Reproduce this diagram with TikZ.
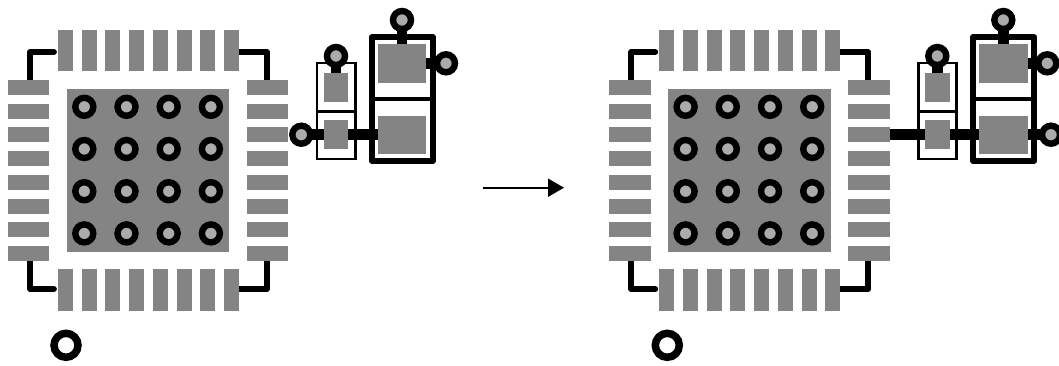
\documentclass[tikz,border=0pt]{standalone}
\usetikzlibrary{arrows.meta}
\definecolor{padgray}{HTML}{848484}
\definecolor{viagray}{HTML}{ABABAB}
\tikzset{
  pad/.style={fill=padgray,draw=none},
  via/.style={fill=viagray,draw=black,line width=6.4pt},
  trace/.style={draw=black,line width=5.8pt,line cap=round,line join=round},
  stem/.style={draw=black,line width=10.5pt},
  bigbox/.style={draw=black,line width=6pt,line join=round},
  smallbox/.style={draw=black,line width=2.7pt},
  link/.style={draw=black,line width=2pt,-{Triangle[length=16pt,width=18pt]},shorten >=0pt}
}
\newcommand\pcbcommon{%
  % corner traces
  \draw[trace] (54,52) -- (30,52) -- (30,81);
  \draw[trace] (239,52) -- (267,52) -- (267,81);
  \draw[trace] (30,260) -- (30,289) -- (54,289);
  \draw[trace] (239,289) -- (267,289) -- (267,260);
  % pads
  \foreach \i in {0,...,7}{
    \pgfmathsetmacro\a{80+23.7*\i}
    \pgfmathsetmacro\b{58+23.7*\i}
    \fill[pad] (8,\a) rectangle (49.3,\a+15);
    \fill[pad] (247,\a) rectangle (288.3,\a+15);
    \fill[pad] (\b,30) rectangle (\b+15,71.3);
    \fill[pad] (\b,269.3) rectangle (\b+15,310.7);
  }
  % centre pad and vias
  \fill[pad] (67,89.3) rectangle (229.3,251.7);
  \foreach \i in {0,...,3}{
    \foreach \j in {0,...,3}{
      \pgfmathsetmacro\a{84.3+42.2*\i}
      \pgfmathsetmacro\b{106.8+42.2*\j}
      \draw[via] (\a,\b) circle (9);
    }
  }
  % orientation mark
  \draw[draw=black,fill=white,line width=7.5pt] (66,345.3) circle (12);
  % stems
  \draw[stem] (402,20) -- (402,44.3);
  \draw[stem] (426,63.5) -- (446,63.5);
  \draw[stem] (336,56) -- (336,73);
  \draw[stem] (348,134.7) -- (378,134.7);
  % component outlines
  \draw[smallbox] (317,63) rectangle (355.3,159);
  \draw[smallbox] (317,111.3) -- (355.3,111.3);
  \draw[bigbox] (371.7,37.3) rectangle (433,160.7);
  \draw[draw=black,line width=3.8pt] (371.7,99) -- (433,99);
  % component pads
  \fill[pad] (378,44.3) rectangle (426.3,83);
  \fill[pad] (378,115.7) rectangle (426.3,154);
  \fill[pad] (323.7,73) rectangle (348.3,102);
  \fill[pad] (323.7,120) rectangle (348.3,149.3);
  % component vias
  \draw[via] (402,20) circle (9);
  \draw[via] (446,63.3) circle (9);
  \draw[via] (336,56) circle (9);
}
\begin{document}
\begin{tikzpicture}[x=1pt,y=-1pt]
  \useasboundingbox (0,0) rectangle (1059,365);
  \fill[white] (0,0) rectangle (1059,365);
  \begin{scope}
    \draw[stem] (301.3,134.7) -- (324,134.7);
    \pcbcommon
    \draw[via] (301.3,134.7) circle (9);
  \end{scope}
  \begin{scope}[xshift=601.3pt]
    \draw[stem] (288,134.7) -- (324,134.7);
    \draw[stem] (426,134.7) -- (449.7,134.7);
    \pcbcommon
    \draw[via] (449.7,134.7) circle (9);
  \end{scope}
  \coordinate (from) at (483.3,187.7);
  \coordinate (to) at (564,187.7);
  \draw[link] (from) -- (to);
\end{tikzpicture}
\end{document}
